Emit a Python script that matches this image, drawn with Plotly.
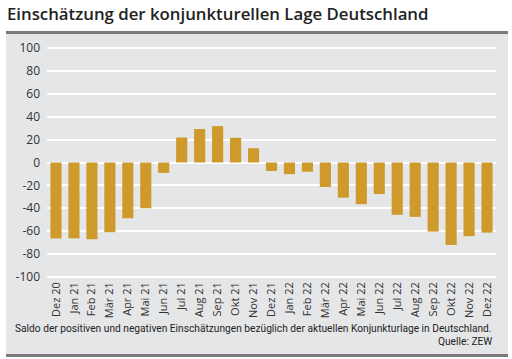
import plotly.graph_objects as go

months = ["Dez 20", "Jan 21", "Feb 21", "Mär 21", "Apr 21", "Mai 21", "Jun 21", "Jul 21",
          "Aug 21", "Sep 21", "Okt 21", "Nov 21", "Dez 21", "Jan 22", "Feb 22", "Mär 22",
          "Apr 22", "Mai 22", "Jun 22", "Jul 22", "Aug 22", "Sep 22", "Okt 22", "Nov 22", "Dez 22"]
saldo = [-66.5, -66.4, -67.2, -61.0, -48.8, -40.1, -9.1, 21.9, 29.3, 31.9, 21.6, 12.5, -7.4,
         -10.2, -8.1, -21.4, -30.8, -36.5, -27.6, -45.8, -47.6, -60.5, -72.2, -64.5, -61.4]
y_ticks = [100, 80, 60, 40, 20, 0, -20, -40, -60, -80, -100]

title = "Einschätzung der konjunkturellen Lage Deutschland"
note = "Saldo der positiven und negativen Einschätzungen bezüglich der aktuellen Konjunkturlage in Deutschland."
source = "Quelle: ZEW"

W, H = 512, 359
ML, MR, MT, MB = 47, 16, 46, 80
PW, PH = W - ML - MR, H - MT - MB

def px(x):
    return (x - ML) / PW

def py(y):
    return (H - MB - y) / PH

BG = "#e5e6e8"
BAR = "#cf9a2c"

fig = go.Figure(go.Bar(x=months, y=saldo, marker=dict(color=BAR, line=dict(width=0))))

fig.update_layout(
    width=W, height=H,
    margin=dict(l=ML, r=MR, t=MT, b=MB),
    paper_bgcolor="white", plot_bgcolor=BG,
    bargap=0.38, showlegend=False,
    font=dict(family="Open Sans, sans-serif", color="#333333"),
    shapes=[
        dict(type="rect", xref="paper", yref="paper", x0=px(6), x1=px(508), y0=py(354), y1=py(34),
             fillcolor=BG, line=dict(width=0), layer="below"),
        dict(type="rect", xref="paper", yref="paper", x0=px(6), x1=px(508), y0=py(34), y1=py(31),
             fillcolor="#7b7b7b", line=dict(width=0)),
        dict(type="rect", xref="paper", yref="paper", x0=px(6), x1=px(508), y0=py(357), y1=py(354),
             fillcolor="#7b7b7b", line=dict(width=0)),
    ],
    annotations=[
        dict(text=title, xref="paper", yref="paper", x=px(5), y=py(14), xanchor="left", yanchor="middle",
             showarrow=False, font=dict(family="Open Sans, sans-serif", size=16.8, color="#222222", weight=600)),
        dict(text=note, xref="paper", yref="paper", x=px(494), y=py(328), xanchor="right", yanchor="middle",
             showarrow=False, font=dict(family="Roboto, sans-serif", size=10.2, color="#222222")),
        dict(text=source, xref="paper", yref="paper", x=px(494), y=py(341), xanchor="right", yanchor="middle",
             showarrow=False, font=dict(family="Roboto, sans-serif", size=10.2, color="#222222")),
    ],
)
fig.update_xaxes(tickangle=-90, tickfont=dict(size=11, color="#333333"), showgrid=False,
                 showline=False, ticks="", automargin=False)
fig.update_yaxes(range=[-102, 102], tickvals=y_ticks, ticktext=[str(v) for v in y_ticks],
                 showgrid=True, gridcolor="white", gridwidth=1.5, zeroline=False, automargin=False,
                 tickfont=dict(size=12, color="#333333"), ticks="", ticklabelstandoff=6)

fig.write_html("out.html", config={"displayModeBar": False},
               post_script="document.body.style.margin='0';document.body.style.overflow='hidden';")
